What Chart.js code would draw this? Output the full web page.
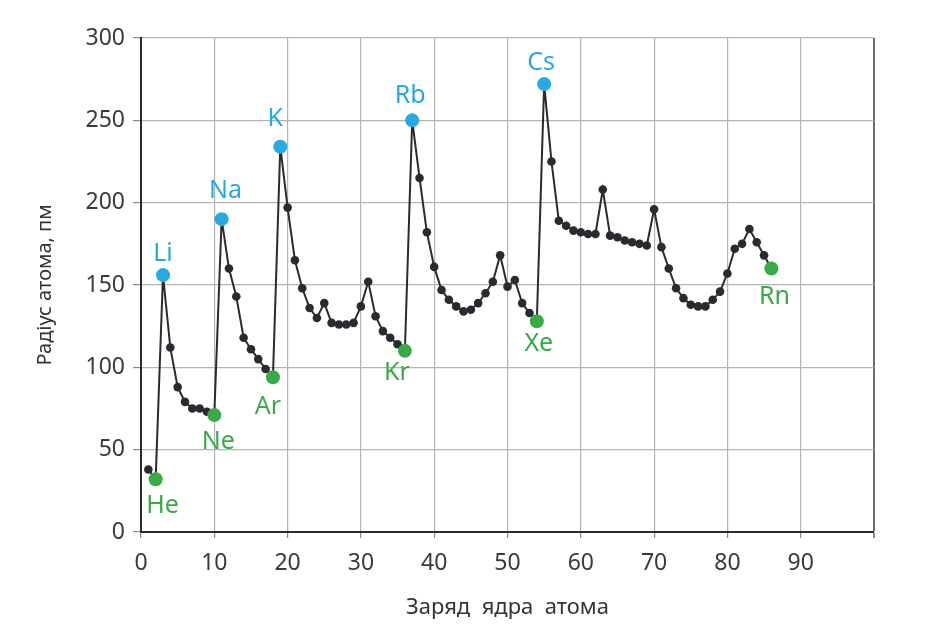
<!DOCTYPE html>
<html>
<head>
<meta charset="utf-8">
<script src="https://cdn.jsdelivr.net/npm/chart.js@4.4.1/dist/chart.umd.min.js"></script>
<style>
  body { margin: 0; background: #fff; }
  #wrap { width: 940px; height: 631px; }
</style>
</head>
<body>
<div id="wrap"><canvas id="radius-chart" width="940" height="631"></canvas></div>
<script>
// Atomic number (Z) and atomic radius, pm
const atomicNumbers = [
    1, 2, 3, 4, 5, 6, 7, 8, 9, 10, 11, 12, 13, 14, 15, 16, 17, 18, 19, 20,
    21, 22, 23, 24, 25, 26, 27, 28, 29, 30, 31, 32, 33, 34, 35, 36, 37, 38, 39, 40,
    41, 42, 43, 44, 45, 46, 47, 48, 49, 50, 51, 52, 53, 54, 55, 56, 57, 58, 59, 60,
    61, 62, 63, 64, 65, 66, 67, 68, 69, 70, 71, 72, 73, 74, 75, 76, 77, 78, 79, 80,
    81, 82, 83, 84, 85, 86
];
const atomicRadius = [
    38, 32, 156, 112, 88, 79, 75, 75, 73, 71, 190, 160, 143, 118, 111, 105, 99, 94, 234, 197,
    165, 148, 136, 130, 139, 127, 126, 126, 127, 137, 152, 131, 122, 118, 114, 110, 250, 215, 182, 161,
    147, 141, 137, 134, 135, 139, 145, 152, 168, 149, 153, 139, 133, 128, 272, 225, 189, 186, 183, 182,
    181, 181, 208, 180, 179, 177, 176, 175, 174, 196, 173, 160, 148, 142, 138, 137, 137, 141, 146, 157,
    172, 175, 184, 176, 168, 160
];

// Alkali metals (blue) and noble gases (green)
const alkaliZ = [3, 11, 19, 37, 55];
const alkaliNames = ['Li', 'Na', 'K', 'Rb', 'Cs'];
const nobleZ = [2, 10, 18, 36, 54, 86];
const nobleNames = ['He', 'Ne', 'Ar', 'Kr', 'Xe', 'Rn'];

const xTicks = [0, 10, 20, 30, 40, 50, 60, 70, 80, 90, 100];

const BLUE = '#2aa9df';
const GREEN = '#3aa94a';
const DARK = '#2a2a31';
const FONT = "'Noto Sans', 'Open Sans', sans-serif";

const points = atomicNumbers.map((z, i) => ({ x: z, y: atomicRadius[i] }));

const radii = atomicNumbers.map(z => (alkaliZ.includes(z) || nobleZ.includes(z)) ? 7 : 4.3);
const colors = atomicNumbers.map(z => alkaliZ.includes(z) ? BLUE : (nobleZ.includes(z) ? GREEN : DARK));

// label offsets from the point (px)
const labelOffsets = {
    Li: [0, -21], Na: [4, -28], K: [-5, -28], Rb: [-2, -24], Cs: [-3, -21],
    He: [7, 27], Ne: [4, 27], Ar: [-5, 30], Kr: [-8, 22], Xe: [2, 23], Rn: [3, 28]
};

const elementLabels = {
    id: 'elementLabels',
    afterDatasetsDraw(chart) {
        const ctx = chart.ctx;
        const meta = chart.getDatasetMeta(0);
        ctx.save();
        ctx.font = '25px ' + FONT;
        ctx.textAlign = 'center';
        ctx.textBaseline = 'middle';
        const draw = (zs, names, color) => {
            zs.forEach((z, k) => {
                const el = meta.data[atomicNumbers.indexOf(z)];
                const off = labelOffsets[names[k]];
                ctx.fillStyle = color;
                ctx.fillText(names[k], el.x + off[0], el.y + off[1]);
            });
        };
        draw(alkaliZ, alkaliNames, BLUE);
        draw(nobleZ, nobleNames, GREEN);
        ctx.restore();
    }
};

const radiusChart = new Chart(document.getElementById('radius-chart').getContext('2d'), {
    type: 'line',
    data: {
        datasets: [{
            data: points,
            borderColor: DARK,
            borderWidth: 2,
            pointRadius: radii,
            pointBackgroundColor: colors,
            pointBorderWidth: 0,
            tension: 0
        }]
    },
    options: {
        responsive: false,
        animation: false,
        events: [],
        layout: { padding: { top: 38, right: 66, left: 0, bottom: 0 } },
        plugins: { legend: { display: false }, tooltip: { enabled: false } },
        scales: {
            x: {
                type: 'linear',
                min: 0,
                max: 100,
                afterBuildTicks: axis => { axis.ticks = xTicks.map(v => ({ value: v })); },
                afterFit: axis => { axis.height = 99; },
                ticks: {
                    font: { family: FONT, size: 23 },
                    color: '#3a3a3a',
                    padding: 12,
                    maxRotation: 0,
                    callback: v => v === 100 ? '' : v
                },
                grid: {
                    color: ctx => ctx.tick && ctx.tick.value === 100 ? '#6e6e6e' : '#b4b4b4',
                    lineWidth: ctx => ctx.tick && ctx.tick.value === 100 ? 2 : 1.2,
                    tickLength: 6,
                    tickColor: '#8a8a8a'
                },
                border: { color: '#2b2b2b', width: 2 },
                title: {
                    display: true,
                    text: 'Заряд  ядра  атома',
                    font: { family: FONT, size: 22 },
                    color: '#333',
                    padding: { top: 0, bottom: 10 }
                }
            },
            y: {
                min: 0,
                max: 300,
                afterFit: axis => { axis.width = 141; },
                ticks: {
                    stepSize: 50,
                    font: { family: FONT, size: 23 },
                    color: '#3a3a3a',
                    padding: 8,
                    maxRotation: 0
                },
                grid: {
                    color: '#b4b4b4',
                    lineWidth: 1.2,
                    tickLength: 8,
                    tickColor: '#8a8a8a'
                },
                border: { color: '#2b2b2b', width: 2 },
                title: {
                    display: true,
                    text: 'Радіус атома, пм',
                    font: { family: FONT, size: 20 },
                    color: '#333',
                    padding: { top: 33, bottom: 0 }
                }
            }
        }
    },
    plugins: [elementLabels]
});
</script>
</body>
</html>
